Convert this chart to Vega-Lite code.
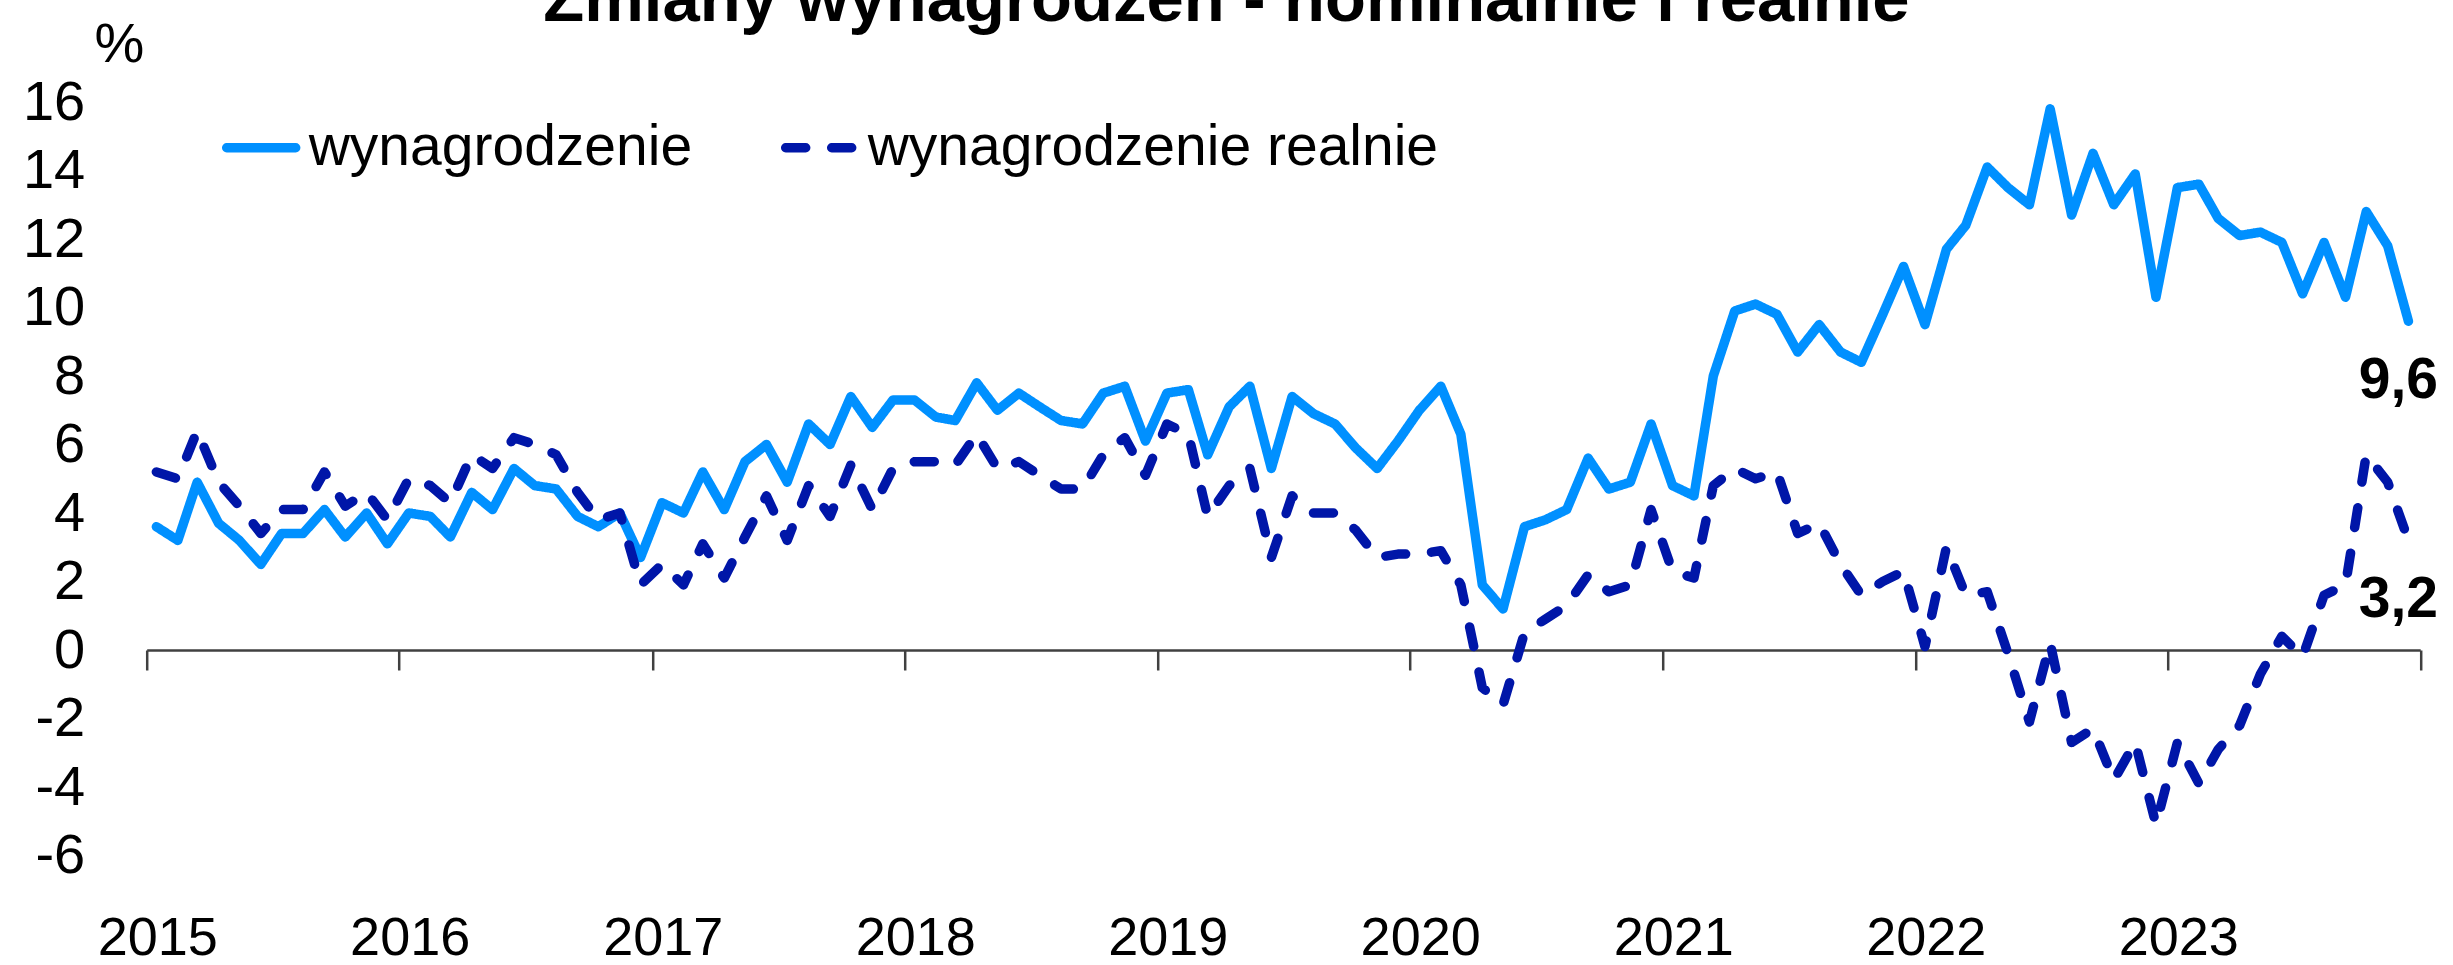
{
  "$schema": "https://vega.github.io/schema/vega-lite/v6.json",
  "width": 2273.5,
  "height": 753.5,
  "autosize": "none",
  "padding": {"left": 146.7, "top": 102, "right": 32.8, "bottom": 109.5},
  "background": "white",
  "title": {
    "text": "Zmiany wynagrodzeń - nominalnie i realnie",
    "anchor": "middle",
    "frame": "group",
    "dx": -57,
    "offset": -72,
    "baseline": "alphabetic",
    "font": "Liberation Sans",
    "fontSize": 67,
    "fontWeight": "bold",
    "color": "black"
  },
  "datasets": {
    "series": [
      {"date": "2015-01-15", "wynagrodzenie": 3.6, "wynagrodzenie realnie": 5.2},
      {"date": "2015-02-15", "wynagrodzenie": 3.2, "wynagrodzenie realnie": 5.0},
      {"date": "2015-03-15", "wynagrodzenie": 4.9, "wynagrodzenie realnie": 6.4},
      {"date": "2015-04-15", "wynagrodzenie": 3.7, "wynagrodzenie realnie": 4.9},
      {"date": "2015-05-15", "wynagrodzenie": 3.2, "wynagrodzenie realnie": 4.2},
      {"date": "2015-06-15", "wynagrodzenie": 2.5, "wynagrodzenie realnie": 3.4},
      {"date": "2015-07-15", "wynagrodzenie": 3.4, "wynagrodzenie realnie": 4.1},
      {"date": "2015-08-15", "wynagrodzenie": 3.4, "wynagrodzenie realnie": 4.1},
      {"date": "2015-09-15", "wynagrodzenie": 4.1, "wynagrodzenie realnie": 5.2},
      {"date": "2015-10-15", "wynagrodzenie": 3.3, "wynagrodzenie realnie": 4.2},
      {"date": "2015-11-15", "wynagrodzenie": 4.0, "wynagrodzenie realnie": 4.6},
      {"date": "2015-12-15", "wynagrodzenie": 3.1, "wynagrodzenie realnie": 3.8},
      {"date": "2016-01-15", "wynagrodzenie": 4.0, "wynagrodzenie realnie": 5.0},
      {"date": "2016-02-15", "wynagrodzenie": 3.9, "wynagrodzenie realnie": 4.8},
      {"date": "2016-03-15", "wynagrodzenie": 3.3, "wynagrodzenie realnie": 4.3},
      {"date": "2016-04-15", "wynagrodzenie": 4.6, "wynagrodzenie realnie": 5.7},
      {"date": "2016-05-15", "wynagrodzenie": 4.1, "wynagrodzenie realnie": 5.3},
      {"date": "2016-06-15", "wynagrodzenie": 5.3, "wynagrodzenie realnie": 6.2},
      {"date": "2016-07-15", "wynagrodzenie": 4.8, "wynagrodzenie realnie": 6.0},
      {"date": "2016-08-15", "wynagrodzenie": 4.7, "wynagrodzenie realnie": 5.7},
      {"date": "2016-09-15", "wynagrodzenie": 3.9, "wynagrodzenie realnie": 4.6},
      {"date": "2016-10-15", "wynagrodzenie": 3.6, "wynagrodzenie realnie": 3.8},
      {"date": "2016-11-15", "wynagrodzenie": 4.0, "wynagrodzenie realnie": 4.0},
      {"date": "2016-12-15", "wynagrodzenie": 2.7, "wynagrodzenie realnie": 1.9},
      {"date": "2017-01-15", "wynagrodzenie": 4.3, "wynagrodzenie realnie": 2.5},
      {"date": "2017-02-15", "wynagrodzenie": 4.0, "wynagrodzenie realnie": 1.9},
      {"date": "2017-03-15", "wynagrodzenie": 5.2, "wynagrodzenie realnie": 3.1},
      {"date": "2017-04-15", "wynagrodzenie": 4.1, "wynagrodzenie realnie": 2.1},
      {"date": "2017-05-15", "wynagrodzenie": 5.5, "wynagrodzenie realnie": 3.3},
      {"date": "2017-06-15", "wynagrodzenie": 6.0, "wynagrodzenie realnie": 4.5},
      {"date": "2017-07-15", "wynagrodzenie": 4.9, "wynagrodzenie realnie": 3.2},
      {"date": "2017-08-15", "wynagrodzenie": 6.6, "wynagrodzenie realnie": 4.8},
      {"date": "2017-09-15", "wynagrodzenie": 6.0, "wynagrodzenie realnie": 3.9},
      {"date": "2017-10-15", "wynagrodzenie": 7.4, "wynagrodzenie realnie": 5.4},
      {"date": "2017-11-15", "wynagrodzenie": 6.5, "wynagrodzenie realnie": 4.1},
      {"date": "2017-12-15", "wynagrodzenie": 7.3, "wynagrodzenie realnie": 5.3},
      {"date": "2018-01-15", "wynagrodzenie": 7.3, "wynagrodzenie realnie": 5.5},
      {"date": "2018-02-15", "wynagrodzenie": 6.8, "wynagrodzenie realnie": 5.5},
      {"date": "2018-03-15", "wynagrodzenie": 6.7, "wynagrodzenie realnie": 5.4},
      {"date": "2018-04-15", "wynagrodzenie": 7.8, "wynagrodzenie realnie": 6.3},
      {"date": "2018-05-15", "wynagrodzenie": 7.0, "wynagrodzenie realnie": 5.3},
      {"date": "2018-06-15", "wynagrodzenie": 7.5, "wynagrodzenie realnie": 5.5},
      {"date": "2018-07-15", "wynagrodzenie": 7.1, "wynagrodzenie realnie": 5.1},
      {"date": "2018-08-15", "wynagrodzenie": 6.7, "wynagrodzenie realnie": 4.7},
      {"date": "2018-09-15", "wynagrodzenie": 6.6, "wynagrodzenie realnie": 4.7},
      {"date": "2018-10-15", "wynagrodzenie": 7.5, "wynagrodzenie realnie": 5.7},
      {"date": "2018-11-15", "wynagrodzenie": 7.7, "wynagrodzenie realnie": 6.2},
      {"date": "2018-12-15", "wynagrodzenie": 6.1, "wynagrodzenie realnie": 5.1},
      {"date": "2019-01-15", "wynagrodzenie": 7.5, "wynagrodzenie realnie": 6.6},
      {"date": "2019-02-15", "wynagrodzenie": 7.6, "wynagrodzenie realnie": 6.3},
      {"date": "2019-03-15", "wynagrodzenie": 5.7, "wynagrodzenie realnie": 3.9},
      {"date": "2019-04-15", "wynagrodzenie": 7.1, "wynagrodzenie realnie": 4.8},
      {"date": "2019-05-15", "wynagrodzenie": 7.7, "wynagrodzenie realnie": 5.3},
      {"date": "2019-06-15", "wynagrodzenie": 5.3, "wynagrodzenie realnie": 2.7},
      {"date": "2019-07-15", "wynagrodzenie": 7.4, "wynagrodzenie realnie": 4.5},
      {"date": "2019-08-15", "wynagrodzenie": 6.9, "wynagrodzenie realnie": 4.0},
      {"date": "2019-09-15", "wynagrodzenie": 6.6, "wynagrodzenie realnie": 4.0},
      {"date": "2019-10-15", "wynagrodzenie": 5.9, "wynagrodzenie realnie": 3.5},
      {"date": "2019-11-15", "wynagrodzenie": 5.3, "wynagrodzenie realnie": 2.7},
      {"date": "2019-12-15", "wynagrodzenie": 6.1, "wynagrodzenie realnie": 2.8},
      {"date": "2020-01-15", "wynagrodzenie": 7.0, "wynagrodzenie realnie": 2.8},
      {"date": "2020-02-15", "wynagrodzenie": 7.7, "wynagrodzenie realnie": 2.9},
      {"date": "2020-03-15", "wynagrodzenie": 6.3, "wynagrodzenie realnie": 1.9},
      {"date": "2020-04-15", "wynagrodzenie": 1.9, "wynagrodzenie realnie": -1.1},
      {"date": "2020-05-15", "wynagrodzenie": 1.2, "wynagrodzenie realnie": -1.6},
      {"date": "2020-06-15", "wynagrodzenie": 3.6, "wynagrodzenie realnie": 0.5},
      {"date": "2020-07-15", "wynagrodzenie": 3.8, "wynagrodzenie realnie": 0.9},
      {"date": "2020-08-15", "wynagrodzenie": 4.1, "wynagrodzenie realnie": 1.3},
      {"date": "2020-09-15", "wynagrodzenie": 5.6, "wynagrodzenie realnie": 2.2},
      {"date": "2020-10-15", "wynagrodzenie": 4.7, "wynagrodzenie realnie": 1.7},
      {"date": "2020-11-15", "wynagrodzenie": 4.9, "wynagrodzenie realnie": 1.9},
      {"date": "2020-12-15", "wynagrodzenie": 6.6, "wynagrodzenie realnie": 4.1},
      {"date": "2021-01-15", "wynagrodzenie": 4.8, "wynagrodzenie realnie": 2.3},
      {"date": "2021-02-15", "wynagrodzenie": 4.5, "wynagrodzenie realnie": 2.1},
      {"date": "2021-03-15", "wynagrodzenie": 8.0, "wynagrodzenie realnie": 4.8},
      {"date": "2021-04-15", "wynagrodzenie": 9.9, "wynagrodzenie realnie": 5.3},
      {"date": "2021-05-15", "wynagrodzenie": 10.1, "wynagrodzenie realnie": 5.0},
      {"date": "2021-06-15", "wynagrodzenie": 9.8, "wynagrodzenie realnie": 5.2},
      {"date": "2021-07-15", "wynagrodzenie": 8.7, "wynagrodzenie realnie": 3.4},
      {"date": "2021-08-15", "wynagrodzenie": 9.5, "wynagrodzenie realnie": 3.7},
      {"date": "2021-09-15", "wynagrodzenie": 8.7, "wynagrodzenie realnie": 2.5},
      {"date": "2021-10-15", "wynagrodzenie": 8.4, "wynagrodzenie realnie": 1.6},
      {"date": "2021-11-15", "wynagrodzenie": 9.8, "wynagrodzenie realnie": 2.0},
      {"date": "2021-12-15", "wynagrodzenie": 11.2, "wynagrodzenie realnie": 2.3},
      {"date": "2022-01-15", "wynagrodzenie": 9.5, "wynagrodzenie realnie": 0.1},
      {"date": "2022-02-15", "wynagrodzenie": 11.7, "wynagrodzenie realnie": 3.0},
      {"date": "2022-03-15", "wynagrodzenie": 12.4, "wynagrodzenie realnie": 1.6},
      {"date": "2022-04-15", "wynagrodzenie": 14.1, "wynagrodzenie realnie": 1.7},
      {"date": "2022-05-15", "wynagrodzenie": 13.5, "wynagrodzenie realnie": -0.1},
      {"date": "2022-06-15", "wynagrodzenie": 13.0, "wynagrodzenie realnie": -2.1},
      {"date": "2022-07-15", "wynagrodzenie": 15.8, "wynagrodzenie realnie": 0.2},
      {"date": "2022-08-15", "wynagrodzenie": 12.7, "wynagrodzenie realnie": -2.7},
      {"date": "2022-09-15", "wynagrodzenie": 14.5, "wynagrodzenie realnie": -2.3},
      {"date": "2022-10-15", "wynagrodzenie": 13.0, "wynagrodzenie realnie": -3.8},
      {"date": "2022-11-15", "wynagrodzenie": 13.9, "wynagrodzenie realnie": -2.7},
      {"date": "2022-12-15", "wynagrodzenie": 10.3, "wynagrodzenie realnie": -5.1},
      {"date": "2023-01-15", "wynagrodzenie": 13.5, "wynagrodzenie realnie": -2.7},
      {"date": "2023-02-15", "wynagrodzenie": 13.6, "wynagrodzenie realnie": -3.9},
      {"date": "2023-03-15", "wynagrodzenie": 12.6, "wynagrodzenie realnie": -2.9},
      {"date": "2023-04-15", "wynagrodzenie": 12.1, "wynagrodzenie realnie": -2.2},
      {"date": "2023-05-15", "wynagrodzenie": 12.2, "wynagrodzenie realnie": -0.7},
      {"date": "2023-06-15", "wynagrodzenie": 11.9, "wynagrodzenie realnie": 0.4},
      {"date": "2023-07-15", "wynagrodzenie": 10.4, "wynagrodzenie realnie": -0.2},
      {"date": "2023-08-15", "wynagrodzenie": 11.9, "wynagrodzenie realnie": 1.6},
      {"date": "2023-09-15", "wynagrodzenie": 10.3, "wynagrodzenie realnie": 1.9},
      {"date": "2023-10-15", "wynagrodzenie": 12.8, "wynagrodzenie realnie": 5.7},
      {"date": "2023-11-15", "wynagrodzenie": 11.8, "wynagrodzenie realnie": 4.9},
      {"date": "2023-12-15", "wynagrodzenie": 9.6, "wynagrodzenie realnie": 3.2}
    ],
    "labels": [
      {"date": "2023-12-15", "value": 9.6, "label": "9,6"},
      {"date": "2023-12-15", "value": 3.2, "label": "3,2"}
    ]
  },
  "layer": [
    {
      "data": {"name": "series"},
      "transform": [{"fold": ["wynagrodzenie", "wynagrodzenie realnie"], "as": ["series", "value"]}],
      "mark": {"type": "line", "strokeWidth": 9.5, "strokeCap": "round", "strokeJoin": "round"},
      "encoding": {
        "x": {
          "field": "date",
          "type": "temporal",
          "scale": {
            "type": "utc",
            "domain": [
              {"year": 2015, "month": 1, "date": 1, "utc": true},
              {"year": 2024, "month": 1, "date": 1, "utc": true}
            ]
          },
          "axis": {
            "values": [
              {"year": 2015, "month": 1, "date": 1, "utc": true},
              {"year": 2016, "month": 1, "date": 1, "utc": true},
              {"year": 2017, "month": 1, "date": 1, "utc": true},
              {"year": 2018, "month": 1, "date": 1, "utc": true},
              {"year": 2019, "month": 1, "date": 1, "utc": true},
              {"year": 2020, "month": 1, "date": 1, "utc": true},
              {"year": 2021, "month": 1, "date": 1, "utc": true},
              {"year": 2022, "month": 1, "date": 1, "utc": true},
              {"year": 2023, "month": 1, "date": 1, "utc": true},
              {"year": 2024, "month": 1, "date": 1, "utc": true}
            ],
            "labelExpr": "utcyear(datum.value) > 2023 ? '' : utcFormat(datum.value, '%Y')",
            "offset": -205.5,
            "grid": false,
            "domain": true,
            "domainColor": "#404040",
            "domainWidth": 2.5,
            "ticks": true,
            "tickColor": "#404040",
            "tickWidth": 2.5,
            "tickSize": 20,
            "labelPadding": 268,
            "labelBaseline": "middle",
            "labelAlign": "center",
            "labelOffset": 10.5,
            "labelFont": "Liberation Sans",
            "labelFontSize": 54,
            "labelColor": "black",
            "labelOverlap": false,
            "labelFlush": false,
            "labelBound": false,
            "title": null
          }
        },
        "y": {
          "field": "value",
          "type": "quantitative",
          "scale": {"domain": [-6, 16], "nice": false, "zero": false},
          "axis": {
            "values": [-6, -4, -2, 0, 2, 4, 6, 8, 10, 12, 14, 16],
            "labelExpr": "'' + datum.value",
            "grid": false,
            "domain": false,
            "ticks": false,
            "labelPadding": 62,
            "labelFont": "Liberation Sans",
            "labelFontSize": 56,
            "labelColor": "black",
            "labelOverlap": false,
            "labelBound": false,
            "title": "%",
            "titleAngle": 0,
            "titleX": -27.7,
            "titleY": -58,
            "titleAlign": "center",
            "titleBaseline": "middle",
            "titleFont": "Liberation Sans",
            "titleFontSize": 56,
            "titleFontWeight": "normal",
            "titleColor": "black"
          }
        },
        "color": {
          "field": "series",
          "type": "nominal",
          "scale": {"domain": ["wynagrodzenie", "wynagrodzenie realnie"], "range": ["#0090FF", "#0016A8"]},
          "legend": {
            "title": null,
            "encode": {"symbols": {"update": {"strokeCap": {"value": "round"}}}}
          }
        },
        "strokeDash": {
          "field": "series",
          "type": "nominal",
          "scale": {"domain": ["wynagrodzenie", "wynagrodzenie realnie"], "range": [[1, 0], [20, 26]]},
          "legend": {"title": null}
        }
      }
    },
    {
      "data": {"name": "labels"},
      "mark": {
        "type": "text",
        "font": "Liberation Sans",
        "fontSize": 57,
        "fontWeight": "bold",
        "dy": 60,
        "dx": -10,
        "align": "center",
        "baseline": "middle",
        "color": "black"
      },
      "encoding": {
        "x": {"field": "date", "type": "temporal"},
        "y": {"field": "value", "type": "quantitative"},
        "text": {"field": "label"}
      }
    }
  ],
  "config": {
    "font": "Liberation Sans",
    "view": {"stroke": null},
    "legend": {
      "orient": "none",
      "legendX": 75,
      "legendY": 6,
      "direction": "horizontal",
      "symbolType": "stroke",
      "symbolSize": 4761,
      "symbolStrokeWidth": 9.5,
      "labelFont": "Liberation Sans",
      "labelFontSize": 57,
      "labelColor": "black",
      "labelOffset": 8,
      "columnPadding": 74,
      "padding": 0,
      "labelLimit": 0
    }
  }
}
